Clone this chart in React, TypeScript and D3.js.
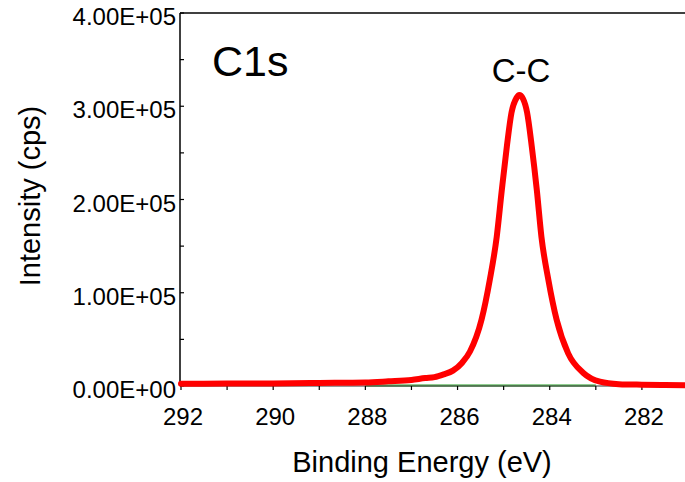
import React from "react";
import * as d3 from "d3";

// C1s spectrum (binding energy in eV, intensity in cps)
const bindingEnergy = [
  292, 291, 290, 289, 288, 287.5, 287, 286.7, 286.5, 286.3, 286.1, 285.9, 285.73,
  285.48, 285.3, 285.15, 285.04, 284.93, 284.83, 284.72, 284.66, 284.58, 284.49,
  284.39, 284.28, 284.18, 284.03, 283.85, 283.6, 283.27, 282.91, 282.5, 282, 281.5, 281,
];
const intensity = [
  2500, 2600, 2800, 3300, 3800, 5000, 6500, 8500, 9500, 12500, 16500, 25000, 37000,
  71000, 114000, 160000, 210000, 257000, 293000, 309000, 312000, 308000, 293000,
  257000, 210000, 160000, 114000, 71000, 35000, 14000, 4600, 2000, 1400, 1100, 900,
];

// background line under the fitted region
const backgroundEnergy = [288, 283];
const backgroundValue = [600, 600];

const xTicks = [292, 290, 288, 286, 284, 282];
const xMinorTicks = [292, 291, 290, 289, 288, 287, 286, 285, 284, 283, 282, 281];
const yTicks = [0, 100000, 200000, 300000, 400000];
const yMinorTicks = [0, 50000, 100000, 150000, 200000, 250000, 300000, 350000, 400000];
const yTickLabels = ["0.00E+00", "1.00E+05", "2.00E+05", "3.00E+05", "4.00E+05"];

const WIDTH = 685;
const HEIGHT = 482;
const FONT = "'Liberation Sans', Arial, sans-serif";

export default function App() {
  const left = 180;
  const top = 13;
  const bottom = 386;

  const x = d3.scaleLinear().domain([292, 281]).range([181, 688]);
  const y = d3.scaleLinear().domain([0, 400000]).range([bottom, top]);

  const points = bindingEnergy.map((e, i) => [e, intensity[i]] as [number, number]);
  const line = d3
    .line<[number, number]>()
    .x((d) => x(d[0]))
    .y((d) => y(d[1]))
    .curve(d3.curveMonotoneX);

  const bgPoints = backgroundEnergy.map((e, i) => [e, backgroundValue[i]] as [number, number]);
  const bgLine = d3
    .line<[number, number]>()
    .x((d) => x(d[0]))
    .y((d) => y(d[1]));

  return (
    <svg
      width={WIDTH}
      height={HEIGHT}
      style={{ position: "absolute", left: 0, top: 0, background: "#fff" }}
      fontFamily={FONT}
    >
      {/* axes frame */}
      <line x1={left} y1={top} x2={WIDTH} y2={top} stroke="#000" strokeWidth={1.5} />
      <line x1={left} y1={top} x2={left} y2={bottom} stroke="#000" strokeWidth={1.5} />

      {/* y ticks (inside) */}
      {yMinorTicks.map((v) => (
        <line key={"ym" + v} x1={left} x2={left + 4} y1={y(v)} y2={y(v)} stroke="#000" strokeWidth={1.2} />
      ))}
      {yTicks.map((v, i) => (
        <text
          key={"yl" + v}
          x={left - 4}
          y={y(v) + 12}
          textAnchor="end"
          fontSize={24}
          fill="#000"
        >
          {yTickLabels[i]}
        </text>
      ))}

      {/* background */}
      <path d={bgLine(bgPoints) || ""} fill="none" stroke="#6cbf6c" strokeWidth={2.5} />

      {/* x axis */}
      <line x1={left} y1={bottom} x2={WIDTH} y2={bottom} stroke="#333" strokeWidth={1.2} />
      {xMinorTicks.map((v) => (
        <line key={"xm" + v} x1={x(v)} x2={x(v)} y1={bottom} y2={bottom + 4} stroke="#000" strokeWidth={1.2} />
      ))}
      {xTicks.map((v) => (
        <text key={"xl" + v} x={x(v) + 2} y={425} textAnchor="middle" fontSize={24} fill="#000">
          {v}
        </text>
      ))}

      {/* spectrum */}
      <path
        d={line(points) || ""}
        fill="none"
        stroke="#ff0000"
        strokeWidth={6}
        strokeLinejoin="round"
        strokeLinecap="round"
      />

      {/* labels */}
      <text x={212} y={76} fontSize={43} fill="#000">
        C1s
      </text>
      <text x={521} y={82} textAnchor="middle" fontSize={33} fill="#000">
        C-C
      </text>
      <text x={422} y={472} textAnchor="middle" fontSize={29} fill="#000">
        Binding Energy (eV)
      </text>
      <text
        transform={`translate(40, 196) rotate(-90)`}
        textAnchor="middle"
        fontSize={29}
        fill="#000"
      >
        Intensity (cps)
      </text>
    </svg>
  );
}
